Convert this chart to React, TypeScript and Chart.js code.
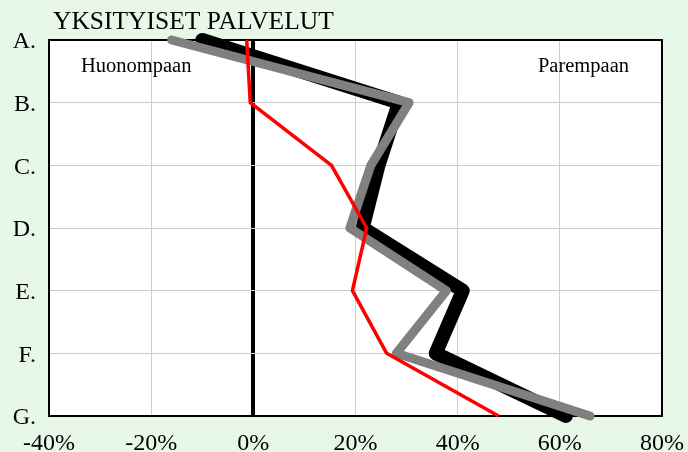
import { useEffect, useRef } from 'react';
import { Chart, registerables } from 'chart.js';

Chart.register(...registerables);

const categories = ['A.', 'B.', 'C.', 'D.', 'E.', 'F.', 'G.'];
const blackSeries = [-10, 28.5, 24.5, 21.4, 41, 35.7, 61.2];
const graySeries = [-16, 30.5, 23, 18.9, 37.8, 28, 65.9];
const redSeries = [-1.3, -0.6, 15.3, 22.2, 19.4, 26.1, 48];
const xMin = -40;
const xMax = 80;
const xStep = 20;
const titleText = 'YKSITYISET PALVELUT';
const leftNote = 'Huonompaan';
const rightNote = 'Parempaan';

const FONT = '"Liberation Serif", "Times New Roman", serif';

const decorPlugin = {
  id: 'decor',
  beforeDraw(chart: any) {
    const { ctx, chartArea, width, height } = chart;
    ctx.save();
    ctx.fillStyle = '#e8f8e8';
    ctx.fillRect(0, 0, width, height);
    ctx.fillStyle = '#ffffff';
    ctx.fillRect(chartArea.left, chartArea.top, chartArea.right - chartArea.left, chartArea.bottom - chartArea.top);
    ctx.restore();
  },
  beforeDatasetsDraw(chart: any) {
    const { ctx, chartArea } = chart;
    ctx.save();
    ctx.strokeStyle = '#000000';
    ctx.lineWidth = 2;
    ctx.strokeRect(chartArea.left, chartArea.top, chartArea.right - chartArea.left, chartArea.bottom - chartArea.top);
    ctx.fillStyle = '#000000';
    ctx.font = `20.5px ${FONT}`;
    ctx.textBaseline = 'alphabetic';
    ctx.textAlign = 'left';
    ctx.fillText(leftNote, chartArea.left + 32, 72);
    ctx.textAlign = 'right';
    ctx.fillText(rightNote, chartArea.right - 33, 72);
    ctx.font = `25.5px ${FONT}`;
    ctx.textAlign = 'left';
    ctx.fillText(titleText, 53, 29);
    ctx.restore();
  },
};

export default function App() {
  const ref = useRef<HTMLCanvasElement | null>(null);

  useEffect(() => {
    document.body.style.margin = '0';
    const canvas = ref.current;
    if (!canvas) return;
    const chart = new Chart(canvas, {
      type: 'line',
      data: {
        labels: categories,
        datasets: [
          {
            data: redSeries,
            borderColor: '#ff0000',
            borderWidth: 3.5,
            pointRadius: 0,
            borderJoinStyle: 'round',
            borderCapStyle: 'butt',
            clip: false,
            tension: 0,
          },
          {
            data: graySeries,
            borderColor: '#808080',
            borderWidth: 9,
            pointRadius: 0,
            borderJoinStyle: 'round',
            borderCapStyle: 'round',
            clip: false,
            tension: 0,
          },
          {
            data: blackSeries,
            borderColor: '#000000',
            borderWidth: 14,
            pointRadius: 0,
            borderJoinStyle: 'round',
            borderCapStyle: 'round',
            clip: false,
            tension: 0,
          },
        ],
      },
      options: {
        indexAxis: 'y',
        animation: false,
        responsive: false,
        devicePixelRatio: 1,
        layout: { padding: { top: 40, right: 26, left: 0, bottom: 0 } },
        plugins: {
          legend: { display: false },
          title: { display: false },
          tooltip: { enabled: false },
        },
        scales: {
          x: {
            type: 'linear',
            min: xMin,
            max: xMax,
            ticks: {
              stepSize: xStep,
              color: '#000000',
              font: { family: FONT, size: 24 },
              padding: 13,
              maxRotation: 0,
              callback: (v: any) => `${v}%`,
            },
            grid: {
              drawTicks: false,
              color: (c: any) => (c.tick && c.tick.value === 0 ? '#000000' : '#cccccc'),
              lineWidth: (c: any) => (c.tick && c.tick.value === 0 ? 4 : 1),
            },
            border: { display: false },
            afterFit: (s: any) => {
              s.height = 36;
              s.paddingLeft = 0;
              s.paddingRight = 0;
            },
          },
          y: {
            type: 'category',
            offset: false,
            ticks: {
              color: '#000000',
              font: { family: FONT, size: 24 },
              padding: 13,
              labelOffset: 2,
            },
            grid: {
              drawTicks: false,
              color: '#cccccc',
              lineWidth: 1,
            },
            border: { display: false },
            afterFit: (s: any) => {
              s.width = 49;
              s.paddingTop = 0;
              s.paddingBottom = 0;
            },
          },
        },
      },
      plugins: [decorPlugin],
    });
    return () => chart.destroy();
  }, []);

  return <canvas ref={ref} width={688} height={452} style={{ display: 'block' }} />;
}
